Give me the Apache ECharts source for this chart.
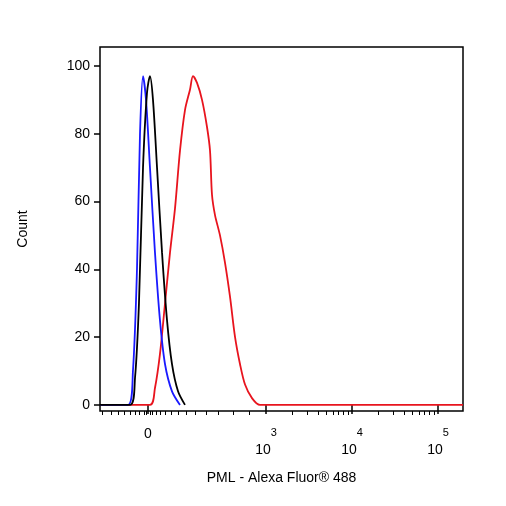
<!DOCTYPE html>
<html><head><meta charset="utf-8">
<script src="https://cdn.jsdelivr.net/npm/echarts@6/dist/echarts.min.js"></script>
<style>html,body{margin:0;padding:0;background:#fff}#c{width:506px;height:506px}</style>
</head><body><div id="c"></div>
<script>
// x in display units (decades, biexponential-like scale: 3 = 10^3)
const blueX=[1.07,1.395,1.453,1.5,1.535,1.570,1.605,1.651,1.709,1.767,1.826,1.907,2.0];
const blueY=[0,0,10,40,80,97,90,70,45,25,12,4,0];
const blackX=[1.07,1.419,1.477,1.523,1.570,1.616,1.651,1.686,1.733,1.791,1.849,1.907,1.977,2.058];
const blackY=[0,0,8,30,70,92,97,90,70,45,25,12,4,0];
const redX=[1.07,1.651,1.709,1.767,1.826,1.884,1.942,2.0,2.058,2.116,2.151,2.198,2.256,2.314,2.349,2.372,2.407,2.465,2.523,2.581,2.640,2.698,2.756,2.837,2.930,5.29];
const redY=[0,0,5,15,30,45,58,75,87,93,97,95,90,82,75,62,56,50,42,32,20,12,6,2,0,0];
const majorTicks=[1.628,3,4,5];
const tickLabels=['{z|0}','{a|10}{b|3}','{a|10}{b|4}','{a|10}{b|5}'];
const minorTicks=[1.1,1.2,1.28,1.35,1.42,1.48,1.53,1.58,1.61,1.65,1.68,1.72,1.77,1.83,1.9,1.98,2.07,2.18,2.3,2.45,2.62,2.8,
3.301,3.477,3.602,3.699,3.778,3.845,3.903,3.954,4.301,4.477,4.602,4.699,4.778,4.845,4.903,4.954,5.301];
const yTicks=[0,20,40,60,80,100];
function pts(xs,ys){return xs.map((x,i)=>[x,ys[i]]);}
const chart=echarts.init(document.getElementById('c'));
chart.setOption({
  animation:false,
  grid:{left:100,right:43,top:47,bottom:95,show:true,borderColor:'#000',borderWidth:1.5},
  xAxis:[{type:'value',min:1.07,max:5.29,position:'bottom',
    name:'PML - Alexa Fluor® 488',nameLocation:'middle',nameGap:60,
    nameTextStyle:{fontFamily:'Liberation Sans',fontSize:14,color:'#000'},
    axisLine:{show:false},splitLine:{show:false},
    axisTick:{show:true,inside:false,length:9,customValues:majorTicks,lineStyle:{color:'#000',width:1.5}},
    axisLabel:{customValues:majorTicks,margin:16,formatter:(v)=>{const i=majorTicks.findIndex(t=>Math.abs(t-v)<1e-6);return i>=0?tickLabels[i]:'';},
      color:'#000',fontFamily:'Liberation Sans',fontSize:14,
      rich:{z:{fontSize:14,fontFamily:'Liberation Sans',color:'#000',padding:[0,0,0,0]},a:{fontSize:14,fontFamily:'Liberation Sans',color:'#000',padding:[16,0,0,0]},b:{fontSize:11,fontFamily:'Liberation Sans',color:'#000',verticalAlign:'top',padding:[0,0,0,0]}}}},
    {type:'value',min:1.07,max:5.29,position:'bottom',axisLine:{show:false},splitLine:{show:false},axisLabel:{show:false},
    axisTick:{show:true,length:4,customValues:minorTicks,lineStyle:{color:'#000',width:1}}}],
  yAxis:{type:'value',min:-1.8,max:105.6,
    name:'Count',nameLocation:'middle',nameGap:70,nameRotate:90,
    nameTextStyle:{fontFamily:'Liberation Sans',fontSize:14,color:'#000'},
    axisLine:{show:false},splitLine:{show:false},
    axisTick:{show:true,length:6,customValues:yTicks,lineStyle:{color:'#000',width:1.5}},
    axisLabel:{customValues:yTicks,color:'#000',fontFamily:'Liberation Sans',fontSize:14,margin:10}},
  series:[
    {type:'line',data:pts(redX,redY),showSymbol:false,smooth:0.3,lineStyle:{color:'#e8141e',width:1.8}},
    {type:'line',data:pts(blueX,blueY),showSymbol:false,smooth:0.3,lineStyle:{color:'#1a1aff',width:1.8}},
    {type:'line',data:pts(blackX,blackY),showSymbol:false,smooth:0.3,lineStyle:{color:'#000',width:1.8}}
  ]
});
</script></body></html>
